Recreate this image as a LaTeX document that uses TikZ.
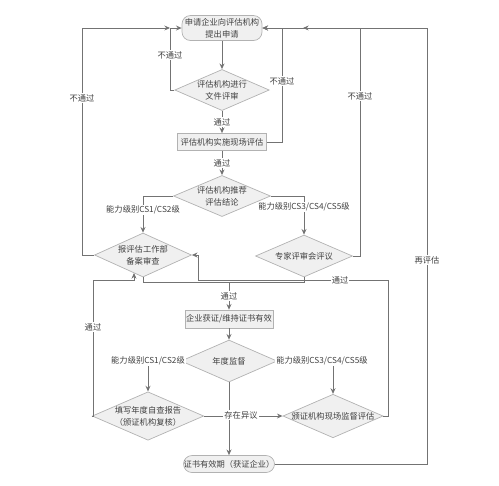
\documentclass[tikz,border=0pt]{standalone}
\usepackage{fontspec}
\newfontfamily\cjk{Noto Sans CJK SC}
\usetikzlibrary{arrows.meta,positioning,calc,shapes.geometric}

\begin{document}
\begin{tikzpicture}[x=0.02cm,y=-0.02cm]
\tikzset{
    every node/.style={font=\cjk\fontsize{4.7}{6.8}\selectfont,text=black!75,align=center},
    box/.style={rectangle,draw=black!30,fill=black!6,inner sep=0pt},
    term/.style={box,rounded corners=0.17cm},
    decide/.style={diamond,draw=black!30,fill=black!6,inner sep=0pt,aspect=2.3},
    lbl/.style={fill=white,inner sep=0.6pt},
    edge/.style={draw=black!55,line width=0.5pt,-{Stealth[length=3.2pt,width=2.8pt]}},
    line/.style={draw=black!55,line width=0.5pt}
}
\useasboundingbox (0,0) rectangle (499,485);
  % vertices
\node[term,minimum width=1.6cm,minimum height=0.5cm] (apply) at (222,28) {申请企业向评估机构\\提出申请};
\node[decide,minimum width=1.84cm,minimum height=0.82cm] (docreview) at (222,90) {评估机构进行\\文件评审};
\node[box,minimum width=1.78cm,minimum height=0.34cm] (onsite) at (222,142) {评估机构实施现场评估};
\node[decide,minimum width=1.94cm,minimum height=0.82cm] (recommend) at (222,196) {评估机构推荐\\评估结论};
\node[decide,minimum width=1.94cm,minimum height=0.88cm] (filing) at (143,255) {报评估工作部\\备案审查};
\node[decide,minimum width=1.94cm,minimum height=0.84cm] (expert) at (304,256) {专家评审会评议};
\node[box,minimum width=1.76cm,minimum height=0.36cm] (cert) at (229,319) {企业获证/维持证书有效};
\node[decide,minimum width=1.92cm,minimum height=0.84cm] (annual) at (229,361) {年度监督};
\node[decide,minimum width=1.92cm,minimum height=0.84cm] (selfcheck) at (148,416) {填写年度自查报告\\（颁证机构复核）};
\node[decide,minimum width=1.94cm,minimum height=0.82cm] (supervise) at (333,416) {颁证机构现场监督评估};
\node[term,minimum width=1.82cm,minimum height=0.34cm] (valid) at (229,464) {证书有效期（获证企业）};
\coordinate (merge) at (229,282);
\coordinate (topjoin) at (303,28);
\coordinate (leftjoin) at (170,28);
% edges
\path[edge] (apply) -- (docreview);
\path[edge] (docreview) -- node[lbl] {通过} (onsite);
\path[edge] (onsite) -- node[lbl] {通过} (recommend);
\path[edge] (recommend.west) -| (filing.north);
\path[edge] (recommend.east) -| (expert.north);
\path[edge] (docreview.west) -- (170,90) |- (apply.west);
\path[edge] (filing.west) -- (82,255) |- (leftjoin);
\path[edge] (onsite.east) -- (282,142) |- (apply.east);
\path[edge] (expert.east) -- (360,256) |- (apply.east);
\path[line] (filing.south) |- (merge);
\path[line] (expert.south) |- (merge);
\path[edge] (merge) -- node[lbl] {通过} (cert);
\path[edge] (cert) -- (annual);
\path[edge] (annual.west) -| (selfcheck.north);
\path[edge] (annual.east) -| (supervise.north);
\path[edge] (annual) -- (valid);
\path[edge] (selfcheck.east) -- (supervise.west);
\path[edge] (selfcheck.west) -- (93,416) -- (93,280) -- (134,280) -- (134,273);
\path[edge] (supervise.east) -- (388,416) -- (388,280) -- (198,280) -- (198,255) -- (filing.east);
\path[edge] (valid.east) -- (427,464) |- (topjoin);
% labels
\node[lbl] at (170,55) {不通过};
\node[lbl] at (82,98) {不通过};
\node[lbl] at (282,81) {不通过};
\node[lbl] at (360,96) {不通过};
\node[lbl] at (143,210) {能力级别CS1/CS2级};
\node[lbl] at (304,207) {能力级别CS3/CS4/CS5级};
\node[lbl] at (148,361) {能力级别CS1/CS2级};
\node[lbl] at (322,361) {能力级别CS3/CS4/CS5级};
\node[lbl] at (241,415) {存在异议};
\node[lbl] at (93,327) {通过};
\node[lbl] at (340,280) {通过};
\node[lbl] at (427,260) {再评估};
\end{tikzpicture}
\end{document}
